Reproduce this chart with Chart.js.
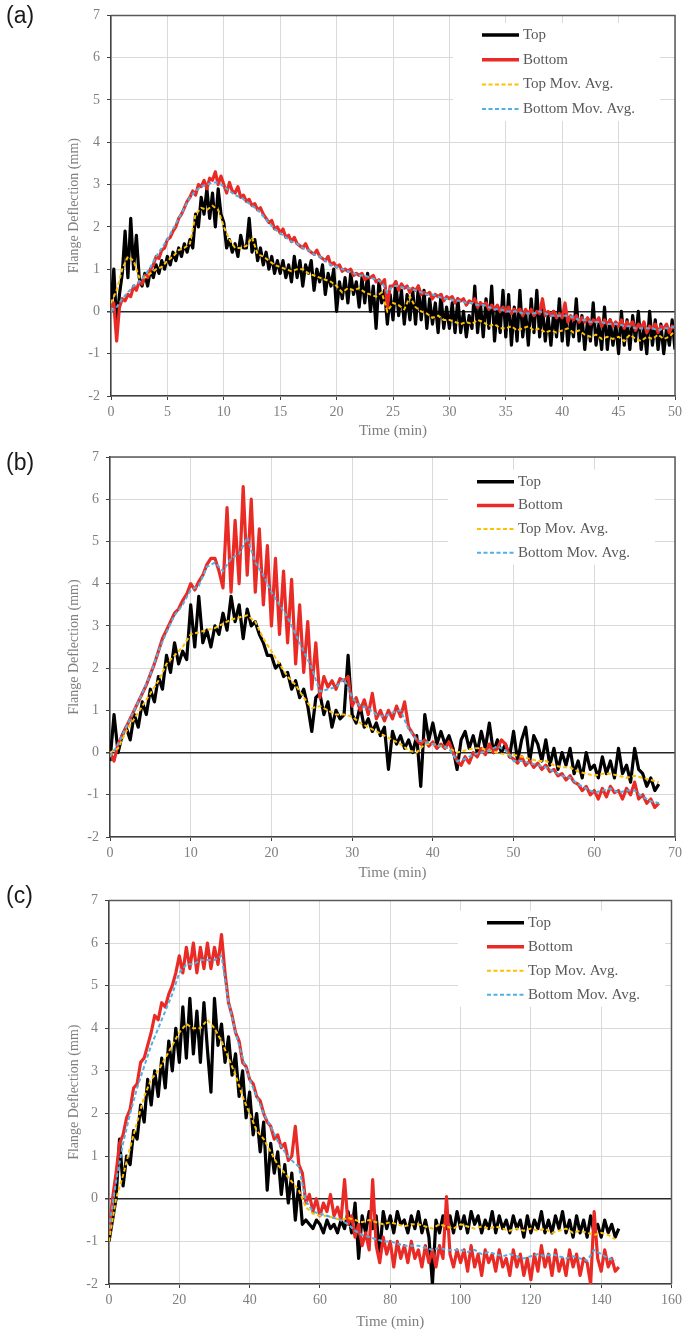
<!DOCTYPE html>
<html>
<head>
<meta charset="utf-8">
<script src="https://cdn.jsdelivr.net/npm/chart.js@4.4.0/dist/chart.umd.min.js"></script>
<style>
	body { margin: 0; background: #ffffff; width: 686px; height: 1331px; position: relative; overflow: hidden; }
	.panel { position: absolute; left: 0; width: 686px; }
	.tag { position: absolute; left: 6px; font-family: "Liberation Sans", Arial, sans-serif; font-size: 23px; line-height: 1; color: #1a1a1a; }
</style>
</head>
<body>
<div class="panel" style="top:0px; height:440px;"><canvas id="canvasA" width="686" height="440"></canvas></div>
<div class="panel" style="top:440px; height:445px;"><canvas id="canvasB" width="686" height="445"></canvas></div>
<div class="panel" style="top:885px; height:446px;"><canvas id="canvasC" width="686" height="446"></canvas></div>
<div class="tag" style="top:4px;">(a)</div>
<div class="tag" style="top:451px;">(b)</div>
<div class="tag" style="top:884px;">(c)</div>

<script>
/***********************************************************************************************
 * data - (a) raw every 0.25 min, mov. avg. every 0.5 min
 ***********************************************************************************************/
var seriesNames = ['Top', 'Bottom', 'Top Mov. Avg.', 'Bottom Mov. Avg.'];

var rawStepA = 0.25;
var avgStepA = 0.5;
var xMaxA = 50, xTickA = 5;
var topA = [
	0.2, 1.0, -0.3, 0.4, 0.9, 1.9, 0.8, 2.2,
	1.0, 1.8, 0.8, 0.6, 0.9, 0.6, 1.0, 0.8,
	1.1, 0.9, 1.2, 1.0, 1.3, 1.1, 1.4, 1.2,
	1.5, 1.3, 1.6, 1.4, 1.7, 1.5, 2.3, 2.0,
	2.7, 2.3, 2.9, 2.2, 2.8, 2.0, 2.9, 2.3,
	2.1, 1.5, 1.7, 1.4, 1.6, 1.3, 1.8, 1.5,
	1.5, 2.2, 1.4, 1.7, 1.2, 1.5, 1.1, 1.4,
	1.0, 1.3, 0.9, 1.2, 0.9, 1.2, 0.8, 1.1,
	0.7, 1.3, 0.8, 1.2, 0.6, 1.1, 0.9, 1.2,
	0.5, 1.0, 0.7, 1.1, 0.4, 0.9, 0.6, 1.0,
	0.0, 0.7, 0.3, 0.8, 0.2, 0.9, 0.4, 0.7,
	0.1, 0.8, 0.2, 0.9, 0.0, 0.6, -0.4, 0.7,
	0.2, 0.5, -0.3, 0.4, -0.2, 0.7, -0.1, 0.5,
	-0.3, 0.4, -0.2, 0.5, -0.3, 0.6, -0.2, 0.5,
	-0.4, 0.3, -0.3, 0.2, -0.5, 0.4, -0.4, 0.1,
	-0.4, 0.2, -0.5, 0.3, -0.5, 0.0, -0.6, -0.1,
	-0.4, 0.6, -0.5, 0.2, -0.6, 0.3, -0.4, 0.6,
	-0.7, 0.1, -0.5, 0.5, -0.6, 0.4, -0.8, 0.1,
	-0.7, 0.5, -0.6, 0.0, -0.8, 0.3, -0.5, 0.5,
	-0.6, 0.1, -0.7, -0.1, -0.8, 0.0, -0.6, 0.3,
	-0.7, 0.1, -0.8, -0.2, -0.6, 0.3, -0.7, -0.1,
	-0.9, -0.2, -0.7, 0.2, -0.8, -0.3, -0.9, 0.1,
	-0.9, -0.2, -0.8, -0.3, -1.0, 0.0, -0.8, -0.2,
	-0.9, -0.1, -0.7, 0.0, -0.9, -0.4, -1.0, 0.0,
	-0.8, -0.2, -0.9, -0.3, -1.0, -0.4, -0.8, -0.2,
	-0.9
];
var bottomA = [
	0.1, 0.2, -0.7, 0.1, 0.3, 0.25, 0.4, 0.35,
	0.6, 0.5, 0.7, 0.65, 0.85, 0.8, 1.0, 1.1,
	1.3, 1.25, 1.45, 1.5, 1.7, 1.75, 1.9, 2.0,
	2.2, 2.3, 2.45, 2.6, 2.7, 2.85, 2.75, 3.0,
	2.95, 3.1, 2.9, 3.15, 3.1, 3.3, 3.0, 3.2,
	3.0, 2.8, 3.05, 2.85, 2.8, 2.95, 2.7, 2.75,
	2.6, 2.65, 2.5, 2.55, 2.4, 2.45, 2.3, 2.2,
	2.1, 2.15, 1.95, 2.0, 1.85, 1.95, 1.75, 1.8,
	1.65, 1.75, 1.6, 1.55, 1.5, 1.6, 1.45, 1.4,
	1.35, 1.45, 1.3, 1.25, 1.2, 1.3, 1.1, 1.15,
	1.05, 1.1, 0.95, 1.0, 0.95, 1.0, 0.85, 0.9,
	0.85, 0.9, 0.75, 0.8, 0.8, 0.85, 0.7, 0.75,
	0.65, 0.75, 0.1, 0.6, 0.6, 0.7, 0.5, 0.65,
	0.55, 0.6, 0.45, 0.55, 0.5, 0.6, 0.4, 0.45,
	0.4, 0.45, 0.3, 0.4, 0.35, 0.4, 0.25, 0.35,
	0.3, 0.35, 0.2, 0.3, 0.25, 0.3, 0.15, 0.25,
	0.2, 0.3, 0.1, 0.2, 0.15, 0.2, 0.05, 0.15,
	0.05, 0.15, 0.0, 0.1, 0.0, 0.1, -0.05, 0.05,
	0.0, 0.05, -0.1, 0.05, -0.05, 0.05, -0.1, 0.0,
	-0.05, 0.3, -0.1, 0.0, -0.1, 0.0, -0.15, -0.05,
	-0.15, 0.2, -0.25, -0.1, -0.2, -0.1, -0.25, -0.15,
	-0.25, -0.15, -0.3, -0.2, -0.25, -0.15, -0.35, -0.2,
	-0.3, -0.2, -0.35, -0.25, -0.35, -0.2, -0.4, -0.25,
	-0.35, -0.25, -0.45, -0.3, -0.4, -0.25, -0.5, -0.35,
	-0.4, -0.3, -0.5, -0.35, -0.4, -0.3, -0.5, -0.35,
	-0.4
];
var topAvgA = [
	0.2, 0.5, 1.0, 1.3, 1.2, 0.8, 0.8, 0.9, 1.0, 1.05,
	1.2, 1.3, 1.45, 1.5, 1.6, 2.3, 2.45, 2.4, 2.5, 2.4,
	2.0, 1.7, 1.5, 1.5, 1.55, 1.75, 1.35, 1.3, 1.2, 1.1,
	1.05, 1.0, 0.95, 1.0, 1.0, 0.9, 0.85, 0.8, 0.75, 0.7,
	0.6, 0.45, 0.55, 0.5, 0.55, 0.45, 0.4, 0.35, 0.45, 0.0,
	0.2, 0.15, 0.05, 0.35, 0.1, 0.0, -0.05, -0.15, -0.1, -0.2,
	-0.2, -0.25, -0.3, -0.25, -0.3, -0.2, -0.25, -0.35, -0.3, -0.4,
	-0.4, -0.35, -0.45, -0.4, -0.35, -0.45, -0.4, -0.5, -0.45, -0.5,
	-0.45, -0.4, -0.5, -0.45, -0.55, -0.6, -0.55, -0.65, -0.6, -0.65,
	-0.6, -0.7, -0.55, -0.65, -0.7, -0.6, -0.65, -0.55, -0.65, -0.6,
	-0.45
];
var bottomAvgA = [
	0.0, 0.1, 0.3, 0.45, 0.6, 0.7, 0.85, 1.05, 1.3, 1.5,
	1.7, 1.95, 2.2, 2.45, 2.7, 2.85, 2.95, 3.0, 3.05, 3.05,
	2.95, 2.85, 2.75, 2.7, 2.6, 2.5, 2.4, 2.25, 2.1, 1.95,
	1.85, 1.75, 1.65, 1.6, 1.5, 1.45, 1.35, 1.3, 1.2, 1.1,
	1.05, 1.0, 0.95, 0.9, 0.85, 0.85, 0.8, 0.75, 0.7, 0.45,
	0.6, 0.6, 0.55, 0.55, 0.5, 0.45, 0.4, 0.4, 0.35, 0.3,
	0.3, 0.25, 0.25, 0.2, 0.2, 0.15, 0.15, 0.1, 0.05, 0.05,
	0.0, 0.0, 0.0, -0.05, -0.05, -0.05, 0.0, -0.05, -0.1, -0.1,
	-0.1, -0.1, -0.15, -0.2, -0.2, -0.25, -0.25, -0.25, -0.3, -0.3,
	-0.3, -0.35, -0.35, -0.4, -0.4, -0.4, -0.4, -0.45, -0.4, -0.4,
	-0.35
];

/***********************************************************************************************
 * data - (b) raw every 0.5 min, mov. avg. every 1 min
 ***********************************************************************************************/
var rawStepB = 0.5;
var avgStepB = 1;
var xMaxB = 70, xTickB = 10;
var topB = [
	-0.2, 0.9, 0.0, 0.4, 0.6, 0.3, 0.9, 0.6, 1.2, 0.9,
	1.5, 1.2, 1.8, 1.5, 2.3, 1.9, 2.6, 2.1, 2.4, 2.2,
	3.5, 2.5, 3.7, 2.6, 2.9, 2.5, 3.0, 2.8, 3.3, 2.9,
	3.7, 3.1, 3.5, 2.7, 3.4, 3.0, 3.1, 2.8, 2.6, 2.3,
	2.3, 2.0, 2.1, 1.8, 1.9, 1.5, 1.7, 1.3, 1.5, 1.1,
	0.5, 1.3, 1.4, 0.9, 1.2, 0.6, 1.0, 0.8, 0.9, 2.3,
	0.9, 0.7, 1.1, 0.6, 0.8, 0.5, 0.7, 0.4, 0.6, -0.4,
	0.5, 0.2, 0.4, 0.1, 0.3, 0.0, 0.4, -0.8, 0.9, 0.3,
	0.7, 0.2, 0.5, 0.2, 0.4, 0.1, -0.4, 0.3, 0.5, 0.1,
	0.4, 0.0, 0.5, 0.1, 0.7, 0.0, 0.3, 0.0, 0.2, -0.1,
	0.5, -0.2, 0.3, 0.6, -0.2, 0.4, 0.2, -0.2, 0.3, -0.3,
	0.1, -0.4, 0.0, -0.3, 0.1, -0.5, -0.2, -0.6, 0.0, -0.4,
	-0.3, -0.6, -0.1, -0.5, -0.2, -0.6, 0.1, -0.5, -0.3, -0.7,
	0.1, -0.4, -0.5, -0.8, -0.6, -0.9,
	-0.75
];
var bottomB = [
	0.0, -0.2, 0.2, 0.4, 0.6, 0.8, 1.0, 1.2, 1.4, 1.6,
	1.85, 2.1, 2.4, 2.7, 2.9, 3.1, 3.3, 3.4, 3.6, 3.75,
	4.0, 3.85, 4.05, 4.2, 4.45, 4.6, 4.6, 4.3, 3.9, 5.8,
	3.8, 5.5, 4.0, 6.3, 4.2, 6.0, 3.8, 5.3, 3.5, 4.9,
	3.0, 4.6, 2.8, 4.3, 2.6, 4.1, 2.1, 3.5, 1.9, 3.1,
	1.5, 2.6, 1.3, 1.8, 1.55, 1.7, 1.5, 1.75, 1.7, 1.8,
	1.1, 1.3, 1.0, 1.25, 0.9, 1.4, 0.8, 1.0, 0.75, 1.0,
	0.8, 1.1, 0.85, 1.2, 0.6, 0.45, 0.3, 0.2, 0.3, 0.15,
	0.25, 0.1, 0.2, 0.1, 0.25, 0.0, -0.2, -0.3, -0.1, -0.25,
	0.0, -0.1, 0.1, -0.05, 0.2, 0.0, 0.1, 0.3, 0.2, -0.1,
	-0.15, -0.25, -0.1, -0.3, -0.2, -0.35, -0.25, -0.4, -0.3, -0.45,
	-0.4, -0.55, -0.5, -0.65, -0.55, -0.7, -0.75, -0.9, -0.8, -1.0,
	-0.9, -1.1, -0.85, -1.05, -0.8, -0.95, -0.9, -1.1, -0.85, -1.0,
	-0.7, -1.1, -1.0, -1.2, -1.1, -1.3,
	-1.2
];
var topAvgB = [
	0.0, 0.1, 0.5, 0.8, 1.1, 1.4, 1.7, 2.1, 2.3, 2.5,
	2.8, 2.85, 2.9, 2.95, 3.05, 3.15, 3.2, 3.25, 3.1, 2.7,
	2.4, 2.1, 1.8, 1.6, 1.3, 1.05, 1.1, 1.0, 0.9, 0.9,
	0.85, 0.7, 0.6, 0.5, 0.4, 0.3, 0.2, 0.05, 0.0, 0.2,
	0.2, 0.15, 0.1, 0.0, 0.05, 0.1, 0.1, 0.05, 0.0, -0.05,
	-0.05, -0.1, -0.15, -0.2, -0.2, -0.3, -0.35, -0.35, -0.45, -0.5,
	-0.55, -0.5, -0.5, -0.55, -0.6, -0.55, -0.6, -0.65, -0.7
];
var bottomAvgB = [
	-0.1, 0.2, 0.6, 1.0, 1.4, 1.85, 2.4, 2.85, 3.25, 3.5,
	3.85, 3.95, 4.4, 4.5, 4.3, 4.6, 4.7, 5.1, 4.5, 4.2,
	3.8, 3.5, 3.2, 2.8, 2.4, 2.0, 1.45, 1.5, 1.55, 1.75,
	1.3, 1.1, 1.05, 0.9, 0.85, 0.95, 1.0, 0.55, 0.3, 0.25,
	0.2, 0.15, 0.1, -0.2, -0.15, -0.05, 0.0, 0.05, 0.15, 0.05,
	-0.2, -0.2, -0.25, -0.3, -0.35, -0.45, -0.55, -0.6, -0.75, -0.85,
	-0.95, -0.9, -0.85, -0.95, -0.9, -0.9, -1.05, -1.15, -1.2
];

/***********************************************************************************************
 * data - (c) raw every 1 min, mov. avg. every 2 min
 ***********************************************************************************************/
var rawStepC = 1;
var avgStepC = 2;
var xMaxC = 160, xTickC = 20;
var topC = [
	-1.0, -0.5, 0.0, 1.4, 0.3, 1.0, 0.8, 1.6, 1.4, 2.2,
	1.8, 2.8, 2.2, 3.0, 2.4, 3.3, 2.6, 3.7, 3.0, 4.0,
	3.2, 4.5, 3.3, 4.7, 3.4, 4.4, 3.2, 4.6, 3.5, 2.5,
	4.7, 3.6, 4.1, 3.2, 3.8, 2.9, 3.4, 2.4, 3.0, 1.9,
	2.5, 1.5, 2.0, 1.1, 1.8, 0.2, 1.3, 0.6, 1.1, 0.1,
	0.8, -0.1, 0.6, -0.5, 0.4, -0.6, -0.5, -0.6, -0.7, -0.5,
	-0.6, -0.8, -0.5, -0.7, -0.6, -0.8, -0.5, -0.7, -0.3, -0.8,
	-0.1, -1.4, -0.4, -0.8, -0.3, -0.7, -0.4, -1.3, -0.3, -0.7,
	-0.4, -0.8, -0.3, -0.6, -0.5, -0.8, -0.4, -0.7, -0.3, -0.8,
	-0.5, -0.9, -2.0, -0.5, -0.8, -0.4, -0.7, -0.4, -0.8, -0.3,
	-0.7, -0.4, -0.8, -0.3, -0.6, -0.4, -0.8, -0.5, -0.7, -0.3,
	-0.8, -0.4, -0.7, -0.5, -0.8, -0.4, -0.7, -0.5, -0.9, -0.4,
	-0.8, -0.5, -0.7, -0.3, -0.8, -0.5, -0.8, -0.4, -0.7, -0.3,
	-0.8, -0.5, -0.9, -0.4, -0.8, -0.5, -0.9, -0.4, -0.8, -0.6,
	-0.9, -0.5, -0.8, -0.6, -0.9, -0.7
];
var bottomC = [
	-0.8, 0.0, 0.6, 1.3, 1.5, 1.9, 2.1, 2.6, 2.7, 3.2,
	3.3, 3.6, 3.9, 4.3, 4.2, 4.6, 4.5, 4.8, 5.0, 5.3,
	5.7, 5.3, 5.9, 5.4, 6.0, 5.3, 5.9, 5.4, 6.0, 5.4,
	5.9, 5.5, 6.2, 5.3, 4.6, 4.3, 3.9, 3.7, 3.2, 3.1,
	2.8, 2.7, 2.4, 2.3, 2.0, 1.8, 1.7, 1.4, 1.5, 1.2,
	1.3, 0.9, 1.0, 1.7, 0.8, 0.6, -0.1, 0.1, -0.3, 0.0,
	-0.4, -0.1, -0.3, 0.1, -0.4, -0.2, -0.5, 0.45, -0.6, -0.4,
	-0.9, -0.6, -1.1, -0.8, -1.2, 0.45, -1.1, -1.5, -0.9, -1.3,
	-1.0, -1.6, -1.0, -1.4, -1.1, -1.5, -1.0, -1.4, -1.2, -1.6,
	-1.1, -1.5, -1.2, -1.6, -1.1, -1.4, 0.05, -1.3, -1.6, -1.2,
	-1.5, -1.2, -1.7, -1.1, -1.6, -1.3, -1.8, -1.2, -1.5, -1.3,
	-1.7, -1.2, -1.6, -1.4, -1.8, -1.2, -1.6, -1.3, -1.8, -1.4,
	-1.9, -1.3, -1.7, -1.1, -1.6, -1.3, -1.8, -1.2, -1.7, -1.4,
	-1.8, -1.2, -1.6, -1.3, -1.8, -1.4, -1.5, -2.0, -0.3, -1.4,
	-1.7, -1.2, -1.6, -1.4, -1.7, -1.6
];
var topAvgC = [
	-1.0, 0.0, 0.55, 1.2, 1.8, 2.4, 2.8, 3.0, 3.3, 3.6,
	3.9, 4.1, 4.0, 4.0, 4.2, 4.0, 3.7, 3.3, 2.9, 2.4,
	2.0, 1.6, 1.4, 1.1, 0.8, 0.6, 0.4, 0.2, -0.2, -0.35,
	-0.4, -0.4, -0.45, -0.5, -0.45, -0.5, -0.55, -0.5, -0.55, -0.6,
	-0.55, -0.6, -0.65, -0.6, -0.6, -0.65, -0.7, -0.6, -0.65, -0.7,
	-0.6, -0.65, -0.7, -0.65, -0.7, -0.65, -0.7, -0.75, -0.7, -0.75,
	-0.7, -0.75, -0.7, -0.8, -0.75, -0.7, -0.8, -0.75, -0.8, -0.85,
	-0.8, -0.85, -0.95
];
var bottomAvgC = [
	-0.7, 0.4, 1.3, 2.0, 2.6, 3.1, 3.6, 4.0, 4.4, 4.8,
	5.3, 5.5, 5.5, 5.6, 5.6, 5.6, 5.7, 4.6, 3.9, 3.3,
	2.8, 2.4, 2.0, 1.7, 1.35, 1.1, 0.9, 0.75, -0.05, -0.3,
	-0.35, -0.4, -0.45, -0.5, -0.6, -0.75, -0.85, -0.9, -0.95, -1.0,
	-1.0, -1.05, -1.1, -1.1, -1.1, -1.15, -1.2, -1.15, -1.2, -1.2,
	-1.2, -1.25, -1.2, -1.3, -1.25, -1.3, -1.35, -1.3, -1.35, -1.4,
	-1.35, -1.3, -1.35, -1.3, -1.35, -1.4, -1.35, -1.4, -1.45, -1.2,
	-1.3, -1.4, -1.45
];

/***********************************************************************************************
 * frame + legend drawn inside the plot area
 ***********************************************************************************************/
var panelFrame = {
	id: 'panelFrame',
	beforeDatasetsDraw: function(chart, args, opts) {
		var ctx = chart.ctx;
		var n = chart.data.datasets.length;
		ctx.save();
		ctx.fillStyle = '#ffffff';
		ctx.fillRect(opts.x - 29, opts.y - 12, 207, opts.gap * (n - 1) + 24);
		ctx.restore();
	},
	afterDatasetsDraw: function(chart, args, opts) {
		var ctx = chart.ctx;
		var area = chart.chartArea;
		var sets = chart.data.datasets;
		ctx.save();
		ctx.strokeStyle = '#595959';
		ctx.lineWidth = 1.5;
		ctx.beginPath();
		ctx.moveTo(area.left, area.top);
		ctx.lineTo(area.right, area.top);
		ctx.lineTo(area.right, area.bottom);
		ctx.stroke();

		ctx.font = '15px "Liberation Serif", "Times New Roman", serif';
		ctx.textBaseline = 'middle';
		ctx.textAlign = 'left';
		for (var i = 0; i < sets.length; i++) {
			var y = opts.y + i * opts.gap;
			ctx.strokeStyle = sets[i].borderColor;
			ctx.lineWidth = sets[i].borderDash ? 2 : 3.5;
			ctx.setLineDash(sets[i].borderDash || []);
			ctx.beginPath();
			ctx.moveTo(opts.x, y);
			ctx.lineTo(opts.x + 37, y);
			ctx.stroke();
			ctx.fillStyle = '#595959';
			ctx.fillText(sets[i].label, opts.x + 41, y);
		}
		ctx.restore();
	}
};

function toPoints(values, step) {
	var points = [];
	for (var i = 0; i < values.length; i++) {
		points.push({ x: i * step, y: values[i] });
	}
	return points;
}

function makeDatasets(top, bottom, topAvg, bottomAvg, rawStep, avgStep) {
	return [
		{ label: seriesNames[0], data: toPoints(top, rawStep), borderColor: '#000000', borderWidth: 3.2, borderJoinStyle: 'round', order: 4 },
		{ label: seriesNames[1], data: toPoints(bottom, rawStep), borderColor: '#ea2b25', borderWidth: 3.2, borderJoinStyle: 'round', order: 3 },
		{ label: seriesNames[2], data: toPoints(topAvg, avgStep), borderColor: '#ffc000', borderWidth: 2, borderDash: [4, 2.5], order: 2 },
		{ label: seriesNames[3], data: toPoints(bottomAvg, avgStep), borderColor: '#4fb0e2', borderWidth: 2, borderDash: [4, 2.5], order: 1 }
	];
}

/***********************************************************************************************
 * one panel
 ***********************************************************************************************/
function drawPanel(canvasId, lay, xMax, xStep, sets) {
	var tickFont = { family: '"Liberation Serif", "Times New Roman", serif', size: 14 };

	return new Chart(document.getElementById(canvasId), {
		type: 'line',
		data: { datasets: sets },
		options: {
			responsive: false,
			animation: false,
			layout: { padding: { top: lay.top, right: lay.right, left: 0, bottom: 0 } },
			elements: { point: { radius: 0 }, line: { tension: 0, fill: false } },
			plugins: {
				legend: { display: false },
				tooltip: { enabled: false },
				panelFrame: { x: lay.legendX, y: lay.legendY, gap: lay.legendGap }
			},
			scales: {
				x: {
					type: 'linear',
					min: 0,
					max: xMax,
					afterFit: function(scale) { scale.height = lay.xHeight; },
					ticks: { stepSize: xStep, color: '#7f7f7f', font: tickFont, padding: 4, maxRotation: 0, autoSkip: false },
					grid: { color: '#d9d9d9', lineWidth: 1, tickLength: 4, tickColor: '#404040' },
					border: { color: '#404040', width: 1.5 },
					title: {
						display: true,
						text: 'Time (min)',
						color: '#7f7f7f',
						font: { family: tickFont.family, size: 15 },
						padding: { top: 0, bottom: lay.titlePad }
					}
				},
				y: {
					min: -2,
					max: 7,
					afterFit: function(scale) { scale.width = lay.left; },
					ticks: { stepSize: 1, color: '#7f7f7f', font: tickFont, padding: 7 },
					grid: {
						color: function(c) { return c.tick && c.tick.value === 0 ? '#262626' : '#d9d9d9'; },
						lineWidth: function(c) { return c.tick && c.tick.value === 0 ? 1.5 : 1; },
						tickLength: 4,
						tickColor: '#404040'
					},
					border: { color: '#404040', width: 1.5 },
					title: {
						display: true,
						text: 'Flange Deflection (mm)',
						color: '#7f7f7f',
						font: { family: tickFont.family, size: 14 },
						padding: { top: 66, bottom: 0 }
					}
				}
			}
		},
		plugins: [panelFrame]
	});
}

drawPanel('canvasA',
	{ top: 12, right: 8, left: 111, xHeight: 44, titlePad: 0, legendX: 482, legendY: 35, legendGap: 24.7 },
	xMaxA, xTickA,
	makeDatasets(topA, bottomA, topAvgA, bottomAvgA, rawStepA, avgStepA));

drawPanel('canvasB',
	{ top: 17, right: 10, left: 110, xHeight: 48, titlePad: 3, legendX: 477, legendY: 41.7, legendGap: 23.7 },
	xMaxB, xTickB,
	makeDatasets(topB, bottomB, topAvgB, bottomAvgB, rawStepB, avgStepB));

drawPanel('canvasC',
	{ top: 13, right: 13, left: 109, xHeight: 47, titlePad: 0, legendX: 487, legendY: 37.7, legendGap: 24 },
	xMaxC, xTickC,
	makeDatasets(topC, bottomC, topAvgC, bottomAvgC, rawStepC, avgStepC));
</script>
</body>
</html>
